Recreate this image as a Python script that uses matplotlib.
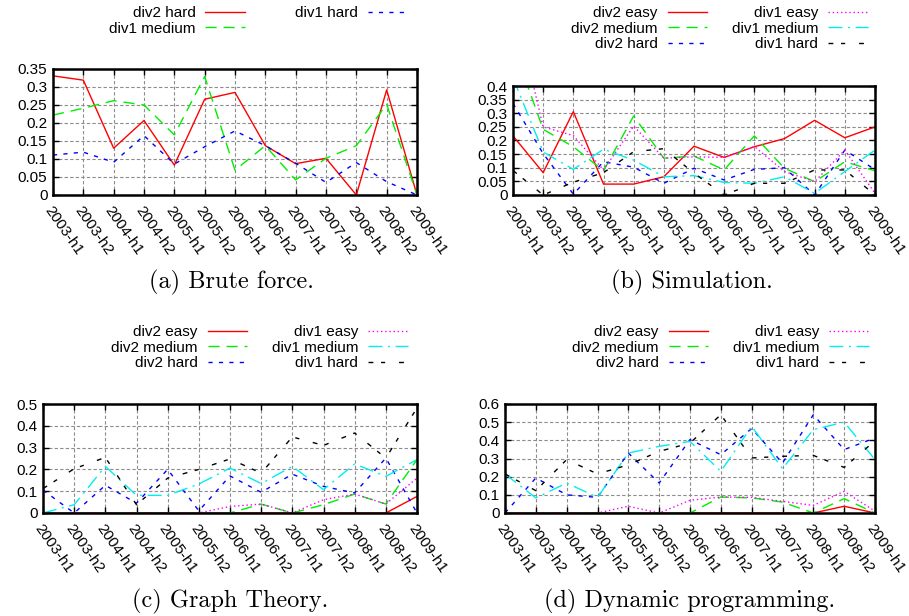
import numpy as np
import matplotlib
matplotlib.use('Agg')
import matplotlib.pyplot as plt

plt.rcParams['font.family'] = ['Liberation Sans', 'DejaVu Sans']

periods = ['2003-h1', '2003-h2', '2004-h1', '2004-h2', '2005-h1', '2005-h2', '2006-h1',
           '2006-h2', '2007-h1', '2007-h2', '2008-h1', '2008-h2', '2009-h1']

# (a) brute force
bf_div2_hard = [0.331, 0.319, 0.13, 0.207, 0.083, 0.266, 0.285, 0.137, 0.087, 0.102, 0.0, 0.292, 0.0]
bf_div1_medium = [0.222, 0.241, 0.262, 0.25, 0.167, 0.329, 0.069, 0.137, 0.042, 0.102, 0.137, 0.252, 0.0]
bf_div1_hard = [0.111, 0.119, 0.091, 0.165, 0.086, 0.134, 0.178, 0.137, 0.088, 0.035, 0.09, 0.037, 0.0]

# (b) simulation
sim_div2_easy = [0.217, 0.082, 0.306, 0.04, 0.04, 0.067, 0.179, 0.138, 0.177, 0.207, 0.274, 0.21, 0.25]
sim_div2_medium = [0.55, 0.241, 0.177, 0.089, 0.29, 0.135, 0.143, 0.092, 0.217, 0.098, 0.049, 0.122, 0.089]
sim_div2_hard = [0.336, 0.152, 0.003, 0.122, 0.102, 0.043, 0.098, 0.055, 0.094, 0.1, 0.0, 0.165, 0.093]
sim_div1_easy = [0.72, 0.25, 0.218, 0.092, 0.253, 0.135, 0.14, 0.138, 0.178, 0.086, 0.049, 0.165, 0.006]
sim_div1_medium = [0.43, 0.158, 0.094, 0.168, 0.128, 0.067, 0.071, 0.046, 0.043, 0.067, 0.006, 0.086, 0.165]
sim_div1_hard = [0.09, 0.0, 0.047, 0.082, 0.159, 0.17, 0.08, 0.0, 0.043, 0.043, 0.092, 0.092, 0.0]

# (c) graph theory
gt_div2_easy = [0, 0, 0, 0, 0, 0, 0, 0, 0, 0, 0, 0, 0.076]
gt_div2_medium = [0, 0, 0, 0, 0, 0, 0, 0.041, 0, 0.038, 0.087, 0.041, 0.245]
gt_div2_hard = [0.105, 0.0, 0.127, 0.045, 0.2, 0.01, 0.17, 0.095, 0.178, 0.122, 0.092, 0.252, 0.0]
gt_div1_easy = [0, 0, 0, 0, 0, 0, 0.03, 0.041, 0, 0.061, 0.087, 0.041, 0.16]
gt_div1_medium = [0.0, 0.038, 0.214, 0.081, 0.081, 0.133, 0.206, 0.135, 0.214, 0.107, 0.225, 0.168, 0.245]
gt_div1_hard = [0.112, 0.203, 0.255, 0.038, 0.16, 0.2, 0.248, 0.183, 0.349, 0.31, 0.367, 0.252, 0.482]

# (d) dynamic programming
dp_div2_easy = [0, 0, 0, 0, 0, 0, 0, 0, 0, 0, 0, 0.037, 0]
dp_div2_medium = [0, 0, 0, 0, 0, 0, 0, 0.088, 0.083, 0.06, 0, 0.079, 0]
dp_div2_hard = [0.0, 0.193, 0.1, 0.086, 0.33, 0.165, 0.404, 0.321, 0.465, 0.275, 0.541, 0.349, 0.413]
dp_div1_easy = [0, 0, 0, 0, 0.037, 0, 0.07, 0.088, 0.086, 0.064, 0.042, 0.119, 0.01]
dp_div1_medium = [0.215, 0.083, 0.165, 0.086, 0.33, 0.367, 0.394, 0.229, 0.477, 0.244, 0.459, 0.5, 0.294]
dp_div1_hard = [0.215, 0.123, 0.294, 0.215, 0.265, 0.339, 0.385, 0.541, 0.303, 0.312, 0.317, 0.251, 0.398]

# gnuplot-like line types
styles = [
    dict(color='#ff0000', linestyle='-'),
    dict(color='#00ee00', linestyle=(0, (8, 5))),
    dict(color='#0000ff', linestyle=(0, (3, 4.5))),
    dict(color='#ff00ff', linestyle=(0, (1, 2))),
    dict(color='#00eeee', linestyle=(0, (10, 4, 1.5, 4))),
    dict(color='#000000', linestyle=(0, (3.5, 5.5, 3, 10))),
]

fig = plt.figure(figsize=(9.09, 6.16), dpi=100)
W, H = 909.0, 616.0


def make_axes(left, right, top, bottom):
    return fig.add_axes([left / W, 1 - bottom / H, (right - left) / W, (bottom - top) / H])


def setup(ax, ymax, yticks, ylabels):
    x = np.arange(len(periods))
    ax.set_xlim(0, len(periods) - 1)
    ax.set_ylim(0, ymax)
    ax.set_xticks(x)
    ax.set_xticklabels(periods, rotation=-55, ha='left', va='top', rotation_mode='anchor', fontsize=11)
    ax.set_yticks(yticks)
    ax.set_yticklabels(ylabels, fontsize=11)
    ax.grid(True, color='#8c8c8c', linestyle=(0, (3, 2)), linewidth=0.8)
    ax.tick_params(direction='in', length=4, width=1, top=True, right=True)
    ax.tick_params(axis='x', pad=6)
    ax.tick_params(axis='y', pad=4)
    for s in ax.spines.values():
        s.set_linewidth(1.8)


def draw(ax, series, labels, style_idx, ymax, yticks, ylabels, legend_right, legend_top, colsp):
    setup(ax, ymax, yticks, ylabels)
    x = np.arange(len(periods))
    handles = []
    for vals, i in zip(series, style_idx):
        h, = ax.plot(x, vals, linewidth=1.0, **styles[i])
        handles.append(h)
    ax.legend(handles, labels, ncol=2, markerfirst=False, frameon=False,
              loc='upper right', bbox_to_anchor=(legend_right / W, 1 - legend_top / H),
              bbox_transform=fig.transFigure, borderpad=0, borderaxespad=0,
              handlelength=2.6, handletextpad=0.65, columnspacing=colsp,
              labelspacing=0.1, fontsize=11)


labels6 = ['div2 easy', 'div2 medium', 'div2 hard', 'div1 easy', 'div1 medium', 'div1 hard']

ax_a = make_axes(53, 417, 69, 195)
draw(ax_a, [bf_div2_hard, bf_div1_medium, bf_div1_hard], ['div2 hard', 'div1 medium', 'div1 hard'],
     [0, 1, 2], 0.35, np.arange(0, 0.351, 0.05),
     ['0', '0.05', '0.1', '0.15', '0.2', '0.25', '0.3', '0.35'], 408, 6, 3.3)

ax_b = make_axes(513, 875, 86, 195)
draw(ax_b, [sim_div2_easy, sim_div2_medium, sim_div2_hard, sim_div1_easy, sim_div1_medium, sim_div1_hard],
     labels6, [0, 1, 2, 3, 4, 5], 0.4, np.arange(0, 0.401, 0.05),
     ['0', '0.05', '0.1', '0.15', '0.2', '0.25', '0.3', '0.35', '0.4'], 868, 6, 1.6)

ax_c = make_axes(43, 417, 404, 513)
draw(ax_c, [gt_div2_easy, gt_div2_medium, gt_div2_hard, gt_div1_easy, gt_div1_medium, gt_div1_hard],
     labels6, [0, 1, 2, 3, 4, 5], 0.5, np.arange(0, 0.501, 0.1),
     ['0', '0.1', '0.2', '0.3', '0.4', '0.5'], 408, 325, 1.6)

ax_d = make_axes(505, 875, 404, 513)
draw(ax_d, [dp_div2_easy, dp_div2_medium, dp_div2_hard, dp_div1_easy, dp_div1_medium, dp_div1_hard],
     labels6, [0, 1, 2, 3, 4, 5], 0.6, np.arange(0, 0.601, 0.1),
     ['0', '0.1', '0.2', '0.3', '0.4', '0.5', '0.6'], 869, 325, 1.6)

captions = [('(a) Brute force.', 231, 282), ('(b) Simulation.', 692, 282),
            ('(c) Graph Theory.', 230, 601), ('(d) Dynamic programming.', 690, 601)]
for txt, cx, cy in captions:
    fig.text(cx / W, 1 - cy / H, txt, ha='center', va='center', family=['cmr10', 'DejaVu Serif'], fontsize=17.5)

fig.savefig('out.png', dpi=100)
